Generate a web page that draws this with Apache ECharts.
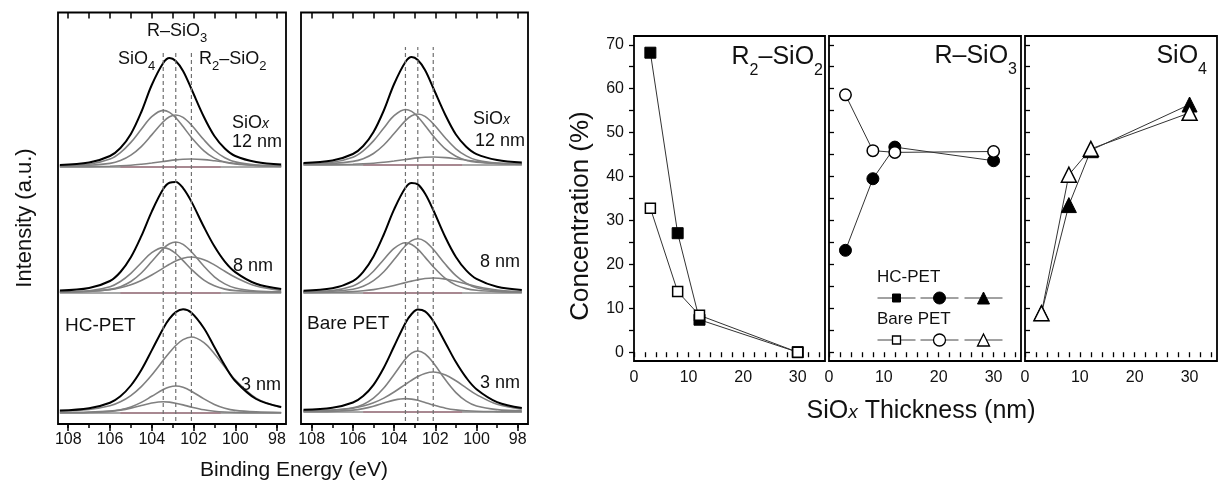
<!DOCTYPE html>
<html><head><meta charset="utf-8">
<script src="https://cdn.jsdelivr.net/npm/echarts@6/dist/echarts.min.js"></script>
<style>html,body{margin:0;padding:0;background:#fff}#c{width:1224px;height:492px}</style>
</head><body><div id="c"></div>
<script>
// ---------- XPS spectra (binding energy in eV, intensity in arbitrary units above each baseline) ----------
const energy = [108.4, 107, 106, 105.5, 105, 104.5, 104, 103.45, 103.15, 102.85, 102.5, 102.1, 101.5, 101, 100.5, 100, 99, 97.8];
const peakPositions = [103.45, 102.85, 102.1];           // SiO4, R-SiO3, R2-SiO2 (dashed guides)
const thicknessLabels = ['12 nm', '8 nm', '3 nm'];
const hcBaselines = [257, 131, 11];
const bareBaselines = [259, 131, 12];

// HC-PET
const hc12_SiO4   = [1.2, 2.7, 7.9, 14.4, 24.6, 37.7, 50.3, 56.6, 54.6, 49.2, 40.4, 29.6, 16.1, 8.9, 4.9, 3.0, 1.6, 1.0];
const hc12_RSiO3  = [0.9, 1.7, 3.6, 6.4, 11.8, 20.4, 32.1, 45.2, 50.2, 52, 49.6, 42.0, 27.2, 16.5, 9.3, 5.1, 2.0, 1.1];
const hc12_R2SiO2 = [0.2, 0.4, 0.8, 1.2, 1.8, 2.8, 4.0, 5.5, 6.4, 7.1, 7.7, 8, 7.4, 6.2, 4.8, 3.5, 1.5, 0.5];
const hc12_env    = [2, 4.5, 11, 19, 33, 55, 82, 104, 109, 106, 96, 78, 50, 31, 18.5, 11, 5, 2.5];

const hc8_SiO4    = [1.0, 2.2, 6.3, 11.5, 19.7, 30.2, 40.4, 45.4, 43.8, 39.5, 32.4, 23.7, 12.9, 7.2, 3.9, 2.4, 1.3, 0.8];
const hc8_RSiO3   = [0.9, 1.6, 3.6, 6.3, 11.5, 20.0, 31.5, 44.4, 49.2, 51, 48.6, 41.2, 26.7, 16.2, 9.1, 5.0, 2.0, 1.1];
const hc8_R2SiO2  = [0.9, 1.7, 3.4, 5.3, 8.2, 12.5, 18, 24.9, 28.7, 32, 34.8, 36, 33.3, 28.1, 21.7, 15.7, 6.9, 2.5];
const hc8_env     = [2.5, 5, 12, 21, 35.7, 56.8, 81.4, 103.9, 110.3, 111, 104.9, 91.4, 66, 46.7, 31.4, 20.9, 9.2, 4];

const hc3_SiO4    = [0.2, 0.5, 1.6, 2.9, 4.9, 7.5, 10.0, 11.3, 10.9, 9.8, 8.1, 5.9, 3.2, 1.8, 1.0, 0.6, 0.3, 0.2];
const hc3_RSiO3   = [0.5, 0.9, 1.9, 3.3, 6.1, 10.6, 16.7, 23.5, 26.1, 27, 25.7, 21.8, 14.1, 8.6, 4.8, 2.6, 1.1, 0.5];
const hc3_R2SiO2  = [1.8, 3.5, 7.2, 11.2, 17.4, 26.4, 38, 52.7, 60.5, 67.5, 73.4, 76, 70.4, 59.3, 45.9, 33.1, 14.7, 5.5];
const hc3_env     = [2.4, 4.7, 10.3, 16.8, 27.5, 43, 62.6, 84.6, 94.3, 100.9, 103.7, 100.3, 84.8, 66, 47.5, 32, 14, 6];

// Bare PET
const bare12_SiO4   = [1.2, 2.7, 7.7, 14.1, 24.1, 37.0, 49.3, 55.5, 53.6, 48.3, 39.6, 29.0, 15.8, 8.8, 4.8, 2.9, 1.6, 1.0];
const bare12_RSiO3  = [0.9, 1.6, 3.6, 6.3, 11.5, 20.0, 31.5, 44.4, 49.2, 51, 48.6, 41.2, 26.7, 16.2, 9.1, 5.0, 2.0, 1.1];
const bare12_R2SiO2 = [0.2, 0.4, 0.8, 1.2, 1.8, 2.8, 4.0, 5.5, 6.4, 7.1, 7.7, 8, 7.4, 6.2, 4.8, 3.5, 1.5, 0.5];
const bare12_env    = [2, 4.5, 11, 19, 33, 54.5, 81, 103, 108, 105, 95, 77, 49.5, 30.5, 18.3, 10.9, 5, 2.5];

const bare8_SiO4    = [1.1, 2.4, 7.0, 12.8, 21.8, 33.5, 44.7, 50.3, 48.5, 43.8, 35.9, 26.3, 14.3, 7.9, 4.4, 2.7, 1.4, 0.9];
const bare8_RSiO3   = [0.9, 1.7, 3.8, 6.7, 12.3, 21.3, 33.5, 47.2, 52.4, 54.3, 51.7, 43.8, 28.4, 17.3, 9.7, 5.3, 2.1, 1.1];
const bare8_R2SiO2  = [0.4, 0.7, 1.4, 2.2, 3.4, 5.2, 7.5, 10.4, 11.9, 13.3, 14.5, 15, 13.9, 11.7, 9.1, 6.5, 2.9, 1.0];
const bare8_env     = [2.3, 4.7, 11.9, 21.2, 36.6, 58.5, 83.6, 105.2, 110, 108.6, 99.5, 83, 55.2, 36, 22.6, 14.1, 6.2, 3];

const bare3_SiO4    = [0.3, 0.6, 1.9, 3.4, 5.8, 8.9, 11.9, 13.4, 12.9, 11.7, 9.6, 7.0, 3.8, 2.1, 1.2, 0.7, 0.4, 0.2];
const bare3_RSiO3   = [1.0, 2.0, 4.3, 7.6, 13.8, 24.0, 37.6, 53.1, 58.9, 61, 58.1, 49.2, 31.9, 19.4, 10.9, 6.0, 2.4, 1.2];
const bare3_R2SiO2  = [1.0, 1.8, 3.8, 5.9, 9.2, 13.9, 20, 27.7, 31.8, 35.5, 38.6, 40, 37, 31.2, 24.2, 17.4, 7.7, 2.8];
const bare3_env     = [2.2, 4.2, 9.5, 16, 27.2, 44.3, 65.7, 89.1, 98, 102.4, 100.6, 91, 68.8, 49.9, 34.3, 22.8, 9.9, 4];

const baselineRange = [108.4, 97.8];
const backgroundRange = [105.5, 100.7];
const bindingTicks = [98, 99, 100, 101, 102, 103, 104, 105, 106, 107, 108];
const bindingMajor = [98, 100, 102, 104, 106, 108];

// ---------- Concentration vs SiOx thickness ----------
const thickness = [3, 8, 12, 30];
const hcR2SiO2   = [68.2, 27.1, 7.4, 0];
const bareR2SiO2 = [32.8, 13.8, 8.4, 0];
const hcRSiO3    = [23.2, 39.5, 46.7, 43.6];
const bareRSiO3  = [58.6, 45.9, 45.5, 45.7];
const hcSiO4     = [8.9, 33.5, 46.0, 56.4];
const bareSiO4   = [8.9, 40.4, 46.3, 54.5];
const thickTicks = [0, 2, 4, 6, 8, 10, 12, 14, 16, 18, 20, 22, 24, 26, 28, 30, 32, 34];
const thickLabels = [0, 10, 20, 30];
const concTicks = [0, 5, 10, 15, 20, 25, 30, 35, 40, 45, 50, 55, 60, 65, 70];
const concLabels = [0, 10, 20, 30, 40, 50, 60, 70];

// ---------- build ----------
const F = "'Liberation Sans', Arial, Helvetica, sans-serif";
const INK = '#111';
const chart = echarts.init(document.getElementById('c'), null, {renderer: 'canvas'});

const grids = [
  {left: 58, top: 12.5, width: 228, height: 411.5},
  {left: 301, top: 12.5, width: 227, height: 411.5},
  {left: 634, top: 36, width: 191, height: 325},
  {left: 829, top: 36, width: 192, height: 325},
  {left: 1025, top: 36, width: 192, height: 325}
].map(g => Object.assign({show: true, borderColor: '#000', borderWidth: 1.8, backgroundColor: 'transparent', containLabel: false}, g));

function beAxis(gi, min, max, pos, ticks, len, labels) {
  const bottom = pos === 'bottom';
  return {
    type: 'value', gridIndex: gi, min: min, max: max, inverse: true, position: pos,
    axisLine: {show: false},
    splitLine: {show: false},
    axisTick: {show: true, inside: !bottom, length: len, customValues: ticks, lineStyle: {color: '#000', width: 1.5}},
    axisLabel: labels ? {show: true, customValues: bindingMajor, fontSize: 16, fontFamily: F, color: INK, margin: 8} : {show: false}
  };
}
function thkAxis(gi) {
  return {
    type: 'value', gridIndex: gi, min: 0, max: 35,
    axisLine: {show: false}, splitLine: {show: false},
    axisTick: {show: true, inside: false, length: 5, customValues: thickTicks, lineStyle: {color: '#000', width: 1.3}},
    axisLabel: {show: true, customValues: thickLabels, fontSize: 16, fontFamily: F, color: INK, margin: 9}
  };
}
function concAxis(gi, first) {
  return {
    type: 'value', gridIndex: gi, min: -2, max: 72,
    axisLine: {show: false}, splitLine: {show: false},
    axisTick: {show: true, inside: !first, length: 5, customValues: concTicks, lineStyle: {color: '#000', width: 1.3}},
    axisLabel: first ? {show: true, customValues: concLabels, fontSize: 16, fontFamily: F, color: INK, margin: 10} : {show: false}
  };
}

const xAxes = [
  beAxis(0, 97.57, 108.49, 'bottom', bindingMajor, 7, true), beAxis(0, 97.57, 108.49, 'top', bindingTicks, 6, false),
  beAxis(1, 97.50, 108.52, 'bottom', bindingMajor, 7, true), beAxis(1, 97.50, 108.52, 'top', bindingTicks, 6, false),
  thkAxis(2), thkAxis(3), thkAxis(4),
  beAxis(0, 97.57, 108.49, 'bottom', bindingTicks, 4, false),
  beAxis(1, 97.50, 108.52, 'bottom', bindingTicks, 4, false)
];
const yAxes = [
  {type: 'value', gridIndex: 0, min: 0, max: 411.5, show: false},
  {type: 'value', gridIndex: 1, min: 0, max: 411.5, show: false},
  concAxis(2, true), concAxis(3, false), concAxis(4, false)
];

const series = [];
const GRAYC = '#808080';
function addSpectra(xi, yi, baselines, spectra, dashTop) {
  spectra.forEach((spec, k) => {
    const b = baselines[k];
    series.push({type: 'line', xAxisIndex: xi, yAxisIndex: yi, symbol: 'none', silent: true,
      data: baselineRange.map(e => [e, b]), lineStyle: {color: '#8c8c8c', width: 1.5}});
    series.push({type: 'line', xAxisIndex: xi, yAxisIndex: yi, symbol: 'none', silent: true,
      data: backgroundRange.map(e => [e, b]), lineStyle: {color: '#a8687a', width: 1.2}});
    spec.forEach((arr, j) => {
      const env = j === 3;
      series.push({type: 'line', xAxisIndex: xi, yAxisIndex: yi, symbol: 'none', silent: true, smooth: 0.35,
        data: energy.map((e, i) => [e, b + arr[i]]),
        lineStyle: {color: env ? '#000' : GRAYC, width: env ? 2 : 1.6}, z: env ? 4 : 3});
    });
  });
  peakPositions.forEach(e => {
    series.push({type: 'line', xAxisIndex: xi, yAxisIndex: yi, symbol: 'none', silent: true,
      data: [[e, 3], [e, dashTop]], lineStyle: {color: '#707070', width: 1.2, type: [4, 3]}, z: 5});
  });
}
addSpectra(0, 0, hcBaselines, [
  [hc12_SiO4, hc12_RSiO3, hc12_R2SiO2, hc12_env],
  [hc8_SiO4, hc8_RSiO3, hc8_R2SiO2, hc8_env],
  [hc3_SiO4, hc3_RSiO3, hc3_R2SiO2, hc3_env]], 374);
addSpectra(2, 1, bareBaselines, [
  [bare12_SiO4, bare12_RSiO3, bare12_R2SiO2, bare12_env],
  [bare8_SiO4, bare8_RSiO3, bare8_R2SiO2, bare8_env],
  [bare3_SiO4, bare3_RSiO3, bare3_R2SiO2, bare3_env]], 377);

const filled = {color: '#000', borderColor: '#000', borderWidth: 1};
const open = {color: '#fff', borderColor: '#000', borderWidth: 1.5};
function conc(name, xi, yi, vals, sym, size, style) {
  series.push({name: name, type: 'line', xAxisIndex: xi, yAxisIndex: yi, symbol: sym, symbolSize: size,
    data: thickness.map((t, i) => [t, vals[i]]), itemStyle: style,
    lineStyle: {color: '#333', width: 1}, z: 6});
}
conc('hcSq', 4, 2, hcR2SiO2, 'rect', 11, filled);
conc('bareSq', 4, 2, bareR2SiO2, 'rect', 10, open);
conc('hcCi', 5, 3, hcRSiO3, 'circle', 12, filled);
conc('bareCi', 5, 3, bareRSiO3, 'circle', 11.5, open);
conc('hcTr', 6, 4, hcSiO4, 'triangle', 15, filled);
conc('bareTr', 6, 4, bareSiO4, 'triangle', 15, open);

function lg(name, left, cy, h, style) {
  return {show: true, selectedMode: false, data: [name], left: left, top: cy - h / 2, padding: 0,
    itemWidth: 38, itemHeight: h, itemGap: 0, formatter: () => '', textStyle: {fontSize: 1},
    itemStyle: style, lineStyle: {color: '#444', width: 1}};
}
const openLg = {color: '#fff', borderColor: '#000', borderWidth: 1.3};
const legends = [
  lg('hcSq', 877, 298, 10, filled), lg('hcCi', 920, 298, 15, filled), lg('hcTr', 964, 298, 15, filled),
  lg('bareSq', 877, 340, 10, openLg), lg('bareCi', 920, 340, 15, openLg), lg('bareTr', 964, 340, 15, openLg)
];

function rich(size, sub, pad) {
  return {
    m: {fontSize: size, fontFamily: F, fill: INK},
    s: {fontSize: sub, fontFamily: F, fill: INK, padding: [pad, 0, 0, 0]},
    x: {fontSize: sub + 1, fontFamily: F, fontStyle: 'italic', fill: INK, padding: [Math.round(pad * 0.4), 0, 0, 0]}
  };
}
function T(x, y, text, opt) {
  opt = opt || {};
  const size = opt.size || 18;
  return {type: 'text', x: x, y: y, rotation: opt.rot || 0, silent: true, z: 50,
    style: {text: text, fontSize: size, fontFamily: F, fill: INK,
      align: opt.align || 'left', verticalAlign: 'middle', textAlign: opt.align || 'left', textVerticalAlign: 'middle',
      rich: opt.rich || rich(size, opt.sub || 13, opt.pad || 14)}};
}
const graphics = [
  T(147, 31, '{m|R–SiO}{s|3}'),
  T(118, 59, '{m|SiO}{s|4}'),
  T(199, 59, '{m|R}{s|2}{m|–SiO}{s|2}'),
  T(232, 123, '{m|SiO}{x|x}', {pad: 8}),
  T(232, 142, '12 nm'),
  T(233, 266, '8 nm'),
  T(65, 326, 'HC-PET', {size: 19}),
  T(241, 385, '3 nm'),
  T(473, 119, '{m|SiO}{x|x}', {pad: 8}),
  T(475, 141, '12 nm'),
  T(480, 262, '8 nm'),
  T(307, 324, 'Bare PET', {size: 19}),
  T(480, 383, '3 nm'),
  T(25, 218, 'Intensity (a.u.)', {size: 22, align: 'center', rot: Math.PI / 2}),
  T(294, 470, 'Binding Energy (eV)', {size: 21, align: 'center'}),
  T(823, 57, '{m|R}{s|2}{m|–SiO}{s|2}', {size: 25, sub: 16, pad: 28, align: 'right'}),
  T(1017, 56, '{m|R–SiO}{s|3}', {size: 25, sub: 16, pad: 28, align: 'right'}),
  T(1207, 56, '{m|SiO}{s|4}', {size: 25, sub: 16, pad: 28, align: 'right'}),
  T(581, 216, 'Concentration (%)', {size: 26, align: 'center', rot: Math.PI / 2}),
  T(921, 411, '{m|SiO}{x|x}{m| Thickness (nm)}', {size: 25, sub: 18, pad: 8, align: 'center'}),
  T(877, 277, 'HC-PET', {size: 17}),
  T(877, 319, 'Bare PET', {size: 17})
];

chart.setOption({
  animation: false,
  backgroundColor: '#fff',
  grid: grids,
  xAxis: xAxes,
  yAxis: yAxes,
  legend: legends,
  series: series,
  graphic: {elements: graphics}
});
</script></body></html>
